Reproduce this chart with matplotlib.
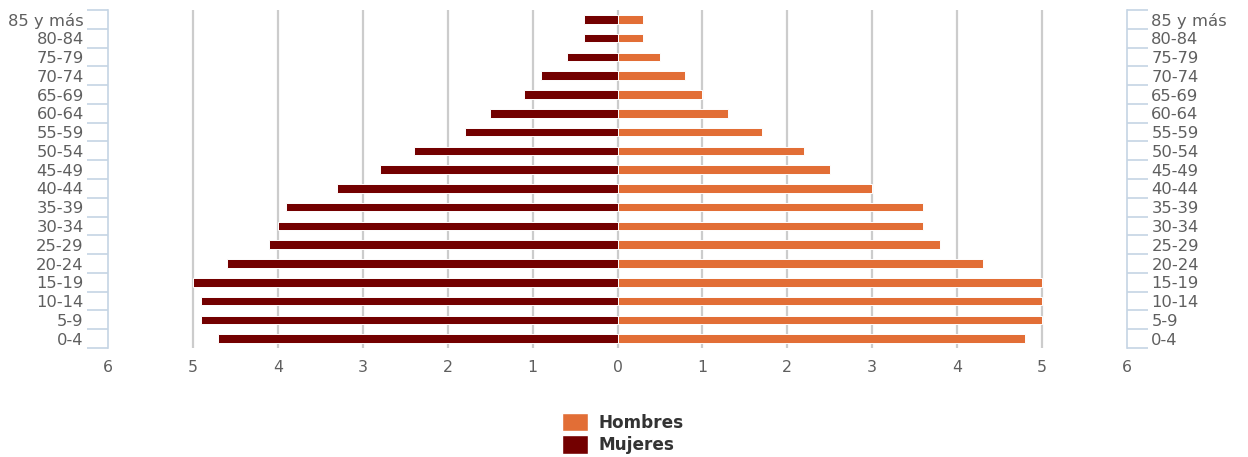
import matplotlib
matplotlib.use("Agg")
import matplotlib.pyplot as plt
from matplotlib.patches import Patch
from matplotlib.ticker import FixedLocator, FuncFormatter

# Age groups, youngest first
age_groups = ["0-4", "5-9", "10-14", "15-19", "20-24", "25-29", "30-34",
              "35-39", "40-44", "45-49", "50-54", "55-59", "60-64",
              "65-69", "70-74", "75-79", "80-84", "85 y más"]

# Percentage of population per age group
hombres = [4.8, 5.0, 5.0, 5.0, 4.3, 3.8, 3.6, 3.6, 3.0, 2.5, 2.2, 1.7,
           1.3, 1.0, 0.8, 0.5, 0.3, 0.3]
mujeres = [4.7, 4.9, 4.9, 5.0, 4.6, 4.1, 4.0, 3.9, 3.3, 2.8, 2.4, 1.8,
           1.5, 1.1, 0.9, 0.6, 0.4, 0.4]

x_ticks = [-6, -5, -4, -3, -2, -1, 0, 1, 2, 3, 4, 5, 6]

COLOR_H = "#E26E36"
COLOR_M = "#730000"
TEXT_COLOR = "#5f5f5f"
AXIS_COLOR = "#c5d4e4"
GRID_COLOR = "#cccccc"

plt.rcParams["font.family"] = ["DejaVu Sans"]

fig = plt.figure(figsize=(12.48, 4.57), dpi=100)
ax = fig.add_axes([108 / 1248, 1 - 348 / 457, (1127 - 108) / 1248, 338 / 457])

y = list(range(len(age_groups)))
bar_h = 0.45
ax.barh(y, hombres, height=bar_h, color=COLOR_H, edgecolor="white",
        linewidth=0.7, zorder=3)
ax.barh(y, [-v for v in mujeres], height=bar_h, color=COLOR_M,
        edgecolor="white", linewidth=0.7, zorder=3)

ax.set_xlim(-6, 6)
ax.set_ylim(-0.5, len(age_groups) - 0.5)

# vertical grid lines at interior ticks
for t in x_ticks[1:-1]:
    ax.axvline(t, color=GRID_COLOR, linewidth=1.6, zorder=1)

ax.xaxis.set_major_locator(FixedLocator(x_ticks))
ax.xaxis.set_major_formatter(FuncFormatter(lambda v, p: f"{abs(int(round(v)))}"))
ax.tick_params(axis="x", length=0, pad=9, labelsize=11.3, labelcolor=TEXT_COLOR)

# category labels on both sides, tick marks between categories
ax.set_yticks(y)
ax.set_yticklabels(age_groups)
ax.yaxis.set_minor_locator(FixedLocator([i - 0.5 for i in range(len(age_groups) + 1)]))
ax.tick_params(axis="y", which="major", length=0, pad=17.5, labelsize=11.8,
               labelcolor=TEXT_COLOR, left=True, right=True,
               labelleft=True, labelright=True)
ax.tick_params(axis="y", which="minor", length=15, width=1.2,
               color=AXIS_COLOR, left=True, right=True, direction="out")

for side in ("top", "bottom"):
    ax.spines[side].set_visible(False)
for side in ("left", "right"):
    ax.spines[side].set_color(AXIS_COLOR)
    ax.spines[side].set_linewidth(1.2)

handles = [Patch(facecolor=COLOR_H, edgecolor="white", label="Hombres"),
           Patch(facecolor=COLOR_M, edgecolor="white", label="Mujeres")]
fig.legend(handles=handles, loc="upper left",
           bbox_to_anchor=(562 / 1248, 1 - 413 / 457),
           frameon=False, borderpad=0, borderaxespad=0,
           handlelength=1.55, handleheight=1.3, handletextpad=0.6,
           labelspacing=0.2,
           prop={"weight": "bold", "size": 12.2}, labelcolor="#333333")

fig.savefig("out.png", dpi=100, facecolor="white")
